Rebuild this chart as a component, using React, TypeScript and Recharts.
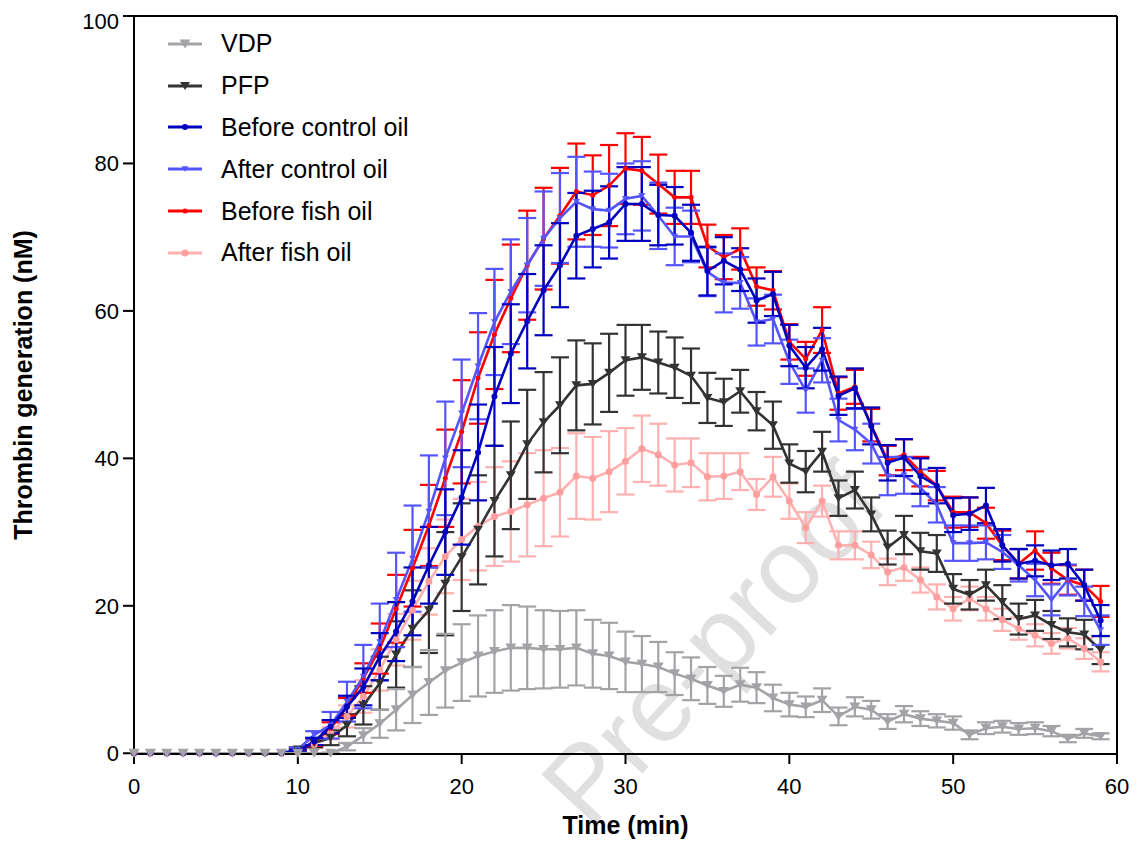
import React from 'react';
import { LineChart, Line, XAxis, YAxis, ErrorBar, ReferenceLine } from 'recharts';

const FONT = '"Liberation Sans", Arial, Helvetica, sans-serif';

// Time (min)
const TIME_MIN = [
  0, 1, 2, 3, 4, 5, 6, 7, 8, 9, 10, 11, 12, 13, 14, 15, 16, 17, 18, 19,
  20, 21, 22, 23, 24, 25, 26, 27, 28, 29, 30, 31, 32, 33, 34, 35, 36, 37, 38, 39,
  40, 41, 42, 43, 44, 45, 46, 47, 48, 49, 50, 51, 52, 53, 54, 55, 56, 57, 58, 59,
];
const X_TICKS = [0, 10, 20, 30, 40, 50, 60];
const Y_TICKS = [0, 20, 40, 60, 80, 100];

// VDP
const VDP = [
  0, 0, 0, 0, 0, 0, 0, 0, 0, 0, 0, 0, 0, 0.9, 2.4, 4.0, 5.9, 7.9, 9.6, 11.2,
  12.3, 13.2, 13.8, 14.3, 14.3, 14.1, 14.1, 14.3, 13.5, 13.2, 12.4, 12.1, 11.7, 10.8, 10.1, 9.2, 8.4, 9.3, 8.9, 7.5,
  6.6, 6.3, 7.2, 5.0, 6.3, 5.9, 4.3, 5.3, 4.7, 4.4, 4.1, 2.5, 3.4, 3.6, 3.3, 3.4, 3.0, 2.0, 2.7, 2.3,
];
const VDP_SD = [
  0, 0, 0, 0, 0, 0, 0, 0, 0, 0, 0, 0, 0.1, 0.5, 1.0, 1.9, 2.8, 3.8, 4.4, 5.0,
  5.2, 5.5, 5.6, 5.8, 5.6, 5.3, 5.2, 5.1, 4.6, 4.5, 4.1, 3.8, 3.4, 2.9, 2.9, 2.5, 2.1, 2.3, 2.1, 1.8,
  1.6, 1.4, 1.6, 1.2, 1.3, 1.2, 1.0, 1.1, 1.0, 0.9, 0.9, 0.6, 0.8, 0.8, 0.8, 0.8, 0.7, 0.5, 0.6, 0.4,
];

// PFP
const PFP = [
  0, 0, 0, 0, 0, 0, 0, 0, 0, 0, 0.5, 1.4, 2.1, 3.8, 6.5, 9.5, 13.4, 16.9, 19.4, 23.0,
  26.6, 30.3, 34.2, 37.7, 41.9, 44.9, 47.2, 49.9, 50.1, 51.6, 53.3, 53.7, 53.0, 52.3, 51.2, 48.2, 47.6, 49.1, 46.4, 44.5,
  39.3, 38.2, 40.9, 34.6, 35.7, 32.4, 27.9, 29.6, 27.4, 27.1, 22.3, 21.5, 22.8, 20.5, 18.2, 18.7, 17.4, 16.4, 16.1, 14.0,
];
const PFP_SD = [
  0, 0, 0, 0, 0, 0, 0, 0, 0, 0, 0.3, 0.6, 1.0, 1.5, 2.6, 3.6, 4.5, 5.2, 5.8, 7.0,
  7.3, 7.4, 7.5, 7.3, 7.4, 6.8, 6.5, 6.1, 5.5, 5.3, 4.8, 4.4, 4.2, 4.1, 3.7, 3.4, 3.2, 2.9, 2.6, 3.2,
  2.6, 2.8, 2.7, 2.4, 2.5, 2.3, 2.3, 2.6, 2.5, 2.5, 2.0, 2.0, 2.1, 2.3, 2.1, 2.1, 1.9, 1.9, 2.0, 1.9,
];

// Before control oil
const BEFORE_CONTROL = [
  0, 0, 0, 0, 0, 0, 0, 0, 0, 0, 0.3, 1.6, 3.6, 6.3, 9.0, 13.1, 16.5, 20.6, 25.5, 30.0,
  34.7, 40.8, 48.4, 54.2, 58.6, 62.8, 66.2, 70.2, 71.1, 72.0, 74.5, 74.5, 73.0, 72.9, 70.6, 65.4, 66.8, 65.6, 61.4, 62.3,
  55.3, 52.3, 54.8, 48.5, 49.5, 44.4, 39.4, 40.1, 37.6, 36.3, 32.3, 32.5, 33.6, 28.2, 25.7, 26.1, 25.5, 25.7, 22.8, 18.0,
];
const BEFORE_CONTROL_SD = [
  0, 0, 0, 0, 0, 0, 0, 0, 0, 0, 0.2, 0.5, 0.9, 1.5, 2.5, 3.2, 4.0, 4.6, 5.2, 5.8,
  6.4, 6.5, 6.7, 6.7, 6.4, 6.1, 5.7, 5.8, 5.2, 4.9, 5.0, 5.0, 4.1, 3.9, 3.8, 3.3, 3.2, 2.9, 3.0, 3.0,
  2.8, 2.8, 2.9, 2.6, 2.7, 2.5, 2.4, 2.5, 2.4, 2.4, 2.3, 2.2, 2.4, 2.2, 2.0, 2.1, 2.0, 2.0, 2.1, 2.1,
];

// After control oil
const AFTER_CONTROL = [
  0, 0, 0, 0, 0, 0, 0, 0, 0, 0, 0.5, 2.5, 3.8, 7.0, 10.4, 15.1, 20.8, 26.4, 32.8, 40.0,
  46.1, 52.5, 58.5, 62.6, 66.2, 69.8, 72.6, 74.8, 73.8, 73.6, 75.2, 75.6, 72.9, 70.1, 70.1, 65.3, 63.8, 63.8, 58.5, 58.9,
  53.1, 49.2, 53.3, 45.2, 43.9, 42.0, 37.6, 37.7, 36.0, 33.7, 28.5, 28.5, 28.6, 27.3, 25.5, 23.5, 20.8, 23.5, 20.6, 16.7,
];
const AFTER_CONTROL_SD = [
  0, 0, 0, 0, 0, 0, 0, 0, 0, 0, 0.3, 0.5, 1.8, 2.7, 4.3, 5.2, 6.4, 7.2, 7.6, 7.7,
  7.3, 7.2, 7.2, 7.1, 6.4, 6.4, 6.1, 6.1, 5.1, 5.0, 4.8, 4.7, 4.5, 3.9, 3.5, 3.3, 4.0, 3.5, 3.2, 3.3,
  3.0, 3.0, 3.0, 2.9, 2.8, 2.7, 2.6, 2.5, 2.5, 2.4, 2.4, 2.4, 2.3, 2.3, 2.2, 2.2, 2.1, 2.1, 2.0, 2.0,
];

// Before fish oil
const BEFORE_FISH = [
  0, 0, 0, 0, 0, 0, 0, 0, 0, 0, 0.3, 1.5, 3.4, 6.3, 10.2, 14.2, 19.6, 25.1, 30.9, 37.3,
  43.6, 50.9, 56.8, 61.7, 66.2, 69.8, 72.9, 76.2, 75.7, 77.0, 79.3, 79.0, 77.2, 75.4, 75.4, 68.8, 67.3, 68.4, 63.3, 62.8,
  55.8, 53.5, 57.4, 48.8, 49.7, 44.5, 39.7, 40.5, 38.2, 36.3, 32.7, 32.7, 31.2, 28.2, 25.7, 27.5, 25.1, 23.5, 22.8, 20.6,
];
const BEFORE_FISH_SD = [
  0, 0, 0, 0, 0, 0, 0, 0, 0, 0, 0.2, 0.5, 0.8, 1.2, 2.0, 3.4, 4.6, 5.2, 5.5, 6.6,
  7.0, 6.2, 7.4, 7.3, 7.4, 6.9, 6.5, 6.5, 5.4, 5.5, 4.8, 4.6, 4.0, 3.6, 3.6, 2.9, 3.0, 2.8, 2.6, 2.6,
  2.4, 2.3, 3.1, 2.2, 2.3, 2.2, 2.0, 2.1, 2.0, 2.0, 2.1, 2.0, 2.1, 2.0, 2.0, 2.6, 2.1, 2.0, 2.1, 2.1,
];

// After fish oil
const AFTER_FISH = [
  0, 0, 0, 0, 0, 0, 0, 0, 0, 0, 0.2, 1.2, 2.7, 5.0, 7.7, 11.3, 15.4, 19.4, 23.3, 26.7,
  29.0, 30.8, 32.1, 32.8, 33.7, 34.6, 35.4, 37.6, 37.3, 38.2, 39.6, 41.3, 40.5, 39.1, 39.4, 37.5, 37.6, 38.2, 35.1, 37.5,
  34.2, 30.6, 34.2, 28.2, 28.2, 26.9, 24.6, 25.2, 23.5, 21.2, 19.6, 21.0, 19.6, 18.1, 16.9, 16.0, 14.9, 15.6, 14.2, 12.4,
];
const AFTER_FISH_SD = [
  0, 0, 0, 0, 0, 0, 0, 0, 0, 0, 0.1, 0.4, 0.8, 1.5, 2.2, 2.8, 3.5, 4.0, 4.5, 5.0,
  5.5, 6.0, 6.7, 6.8, 7.0, 6.5, 6.0, 5.8, 5.6, 5.5, 4.5, 4.5, 4.2, 3.6, 3.3, 3.2, 3.1, 2.5, 2.1, 2.7,
  2.4, 2.1, 2.1, 1.9, 1.9, 1.8, 1.8, 1.8, 1.7, 1.7, 1.6, 1.6, 1.6, 1.5, 1.5, 1.5, 1.4, 1.4, 1.4, 1.3,
];

type Series = {
  key: string;
  name: string;
  values: number[];
  errors: number[];
  color: string;
  markerColor: string;
  shape: 'tri' | 'circle';
  size: number;
};

const SERIES: Series[] = [
  { key: 'vdp', name: 'VDP', values: VDP, errors: VDP_SD, color: '#a3a3a7', markerColor: '#a3a3a7', shape: 'tri', size: 11 },
  { key: 'pfp', name: 'PFP', values: PFP, errors: PFP_SD, color: '#333333', markerColor: '#333333', shape: 'tri', size: 10 },
  { key: 'bco', name: 'Before control oil', values: BEFORE_CONTROL, errors: BEFORE_CONTROL_SD, color: '#0000bf', markerColor: '#0000bf', shape: 'circle', size: 3 },
  { key: 'aco', name: 'After control oil', values: AFTER_CONTROL, errors: AFTER_CONTROL_SD, color: '#5555ff', markerColor: '#5555ff', shape: 'tri', size: 7 },
  { key: 'bfo', name: 'Before fish oil', values: BEFORE_FISH, errors: BEFORE_FISH_SD, color: '#ff0000', markerColor: '#ff0000', shape: 'circle', size: 2.5 },
  { key: 'afo', name: 'After fish oil', values: AFTER_FISH, errors: AFTER_FISH_SD, color: '#ffb0b0', markerColor: '#ff9e9e', shape: 'circle', size: 3.5 },
];

// drawing order (back to front)
const DRAW_ORDER = ['afo', 'pfp', 'bfo', 'aco', 'bco', 'vdp'];

const DATA = TIME_MIN.map((t, i) => {
  const row: Record<string, number> = { t };
  SERIES.forEach((s) => {
    row[s.key] = s.values[i];
    row[s.key + 'Err'] = s.errors[i];
  });
  return row;
});

function markerPath(size: number, cx: number, cy: number) {
  const w = size;
  const h = size * 0.8;
  return `M${cx - w / 2},${cy - h / 2}L${cx + w / 2},${cy - h / 2}L${cx},${cy + h / 2}Z`;
}

function makeDot(s: Series) {
  return (props: any) => {
    const { cx, cy, index } = props;
    const k = `${s.key}-dot-${index}`;
    if (cx == null || cy == null) return <g key={k} />;
    if (s.shape === 'tri') {
      return <path key={k} d={markerPath(s.size, cx, cy)} fill={s.markerColor} />;
    }
    return <circle key={k} cx={cx} cy={cy} r={s.size} fill={s.markerColor} />;
  };
}

function ChartLegend() {
  return (
    <div
      style={{
        position: 'absolute',
        left: 160,
        top: 15,
        zIndex: 2,
        fontFamily: FONT,
        fontSize: 25,
        color: '#000',
        lineHeight: 1,
      }}
    >
      {SERIES.map((s) => (
        <div key={s.key} style={{ display: 'flex', alignItems: 'center', height: 41.8 }}>
          <svg width={34} height={16} style={{ display: 'block' }}>
            <line x1={0} y1={8} x2={34} y2={8} stroke={s.color} strokeWidth={3} />
            {s.shape === 'tri' ? (
              <path d={markerPath(s.size, 17, 8)} fill={s.markerColor} />
            ) : (
              <circle cx={17} cy={8} r={s.size} fill={s.markerColor} />
            )}
          </svg>
          <span style={{ marginLeft: 19 }}>{s.name}</span>
        </div>
      ))}
    </div>
  );
}

const tickStyle = { fontSize: 22, fill: '#000', fontFamily: FONT };

export default function App() {
  const ordered = DRAW_ORDER.map((k) => SERIES.find((s) => s.key === k) as Series);
  return (
    <div style={{ position: 'relative', width: 1129, height: 835, background: '#fff', overflow: 'hidden' }}>
      <div
        style={{
          position: 'absolute',
          left: 705,
          top: 636,
          transform: 'translate(-50%, -50%) rotate(-47deg)',
          fontFamily: FONT,
          fontSize: 106,
          color: '#e0e0e0',
          whiteSpace: 'nowrap',
          pointerEvents: 'none',
          zIndex: 0,
        }}
      >
        Pre-proof
      </div>
      <div style={{ position: 'absolute', left: 0, top: 0, zIndex: 1 }}>
        <LineChart
          width={1129}
          height={835}
          data={DATA}
          margin={{ top: 8, right: 20, bottom: 0, left: 0 }}
        >
          <XAxis
            dataKey="t"
            type="number"
            domain={[0, 60]}
            ticks={X_TICKS}
            allowDecimals={false}
            height={89}
            tickSize={10}
            tickMargin={14}
            tick={tickStyle}
            axisLine={{ stroke: '#000', strokeWidth: 2 }}
            tickLine={{ stroke: '#000', strokeWidth: 2 }}
            label={{
              value: 'Time (min)',
              position: 'insideBottom',
              offset: 9,
              style: { fontSize: 25, fontWeight: 'bold', fill: '#000', fontFamily: FONT },
            }}
          />
          <YAxis
            type="number"
            domain={[0, 100]}
            ticks={Y_TICKS}
            width={126}
            tickSize={11}
            tickMargin={4}
            tick={tickStyle}
            axisLine={{ stroke: '#000', strokeWidth: 2 }}
            tickLine={{ stroke: '#000', strokeWidth: 2 }}
            label={{
              value: 'Thrombin generation (nM)',
              angle: -90,
              position: 'insideLeft',
              offset: 15,
              style: { fontSize: 25, fontWeight: 'bold', fill: '#000', fontFamily: FONT, textAnchor: 'middle' },
            }}
          />
          <ReferenceLine y={100} stroke="#000" strokeWidth={2} />
          <ReferenceLine x={60} stroke="#000" strokeWidth={2} />
          {ordered.map((s) => (
            <Line
              key={s.key}
              dataKey={s.key}
              name={s.name}
              stroke={s.color}
              strokeWidth={2.6}
              dot={makeDot(s)}
              activeDot={false}
              isAnimationActive={false}
              type="linear"
            >
              <ErrorBar dataKey={s.key + 'Err'} width={9} strokeWidth={2.2} stroke={s.color} direction="y" />
            </Line>
          ))}
        </LineChart>
      </div>
      <ChartLegend />
    </div>
  );
}
